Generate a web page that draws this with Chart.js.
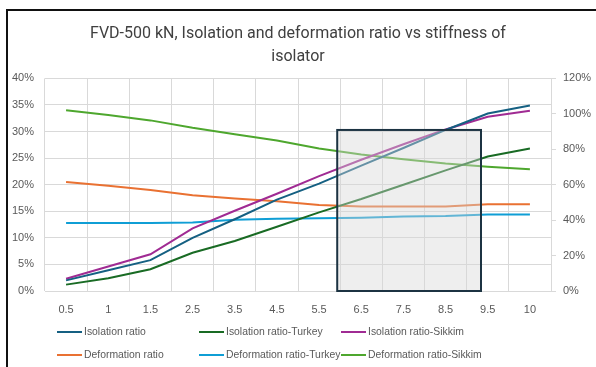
<!DOCTYPE html>
<html lang="en">
<head>
    <meta charset="UTF-8">
    <title>FVD-500 kN, Isolation and deformation ratio</title>
    <script src="https://cdn.jsdelivr.net/npm/chart.js"></script>
    <style>
        * {
            margin: 0;
            padding: 0;
            box-sizing: border-box;
        }

        body {
            width: 596px;
            height: 367px;
            background: #ffffff;
            overflow: hidden;
            position: relative;
            font-family: "Roboto", "Liberation Sans", sans-serif;
        }

        .chart-wrap {
            position: absolute;
            left: 0;
            top: 0;
            width: 596px;
            height: 367px;
        }

        .frame {
            position: absolute;
            left: 6px;
            top: 9px;
            width: 620px;
            height: 400px;
            border-left: 2px solid #111;
            border-top: 2px solid #111;
            pointer-events: none;
        }

        .legend {
            position: absolute;
            left: 57px;
            top: 320px;
            display: grid;
            grid-template-columns: 142px 142px 142px;
            grid-auto-rows: 23px;
            font-family: "Liberation Sans", Arial, sans-serif;
            font-size: 10.4px;
            color: #595959;
        }

        .legend-item {
            display: flex;
            align-items: center;
            white-space: nowrap;
        }

        .legend-item span.swatch {
            display: inline-block;
            width: 25px;
            height: 2px;
            margin-right: 2px;
        }
    </style>
</head>
<body>
    <div class="chart-wrap">
        <canvas id="ratioChart" width="596" height="367"></canvas>
    </div>
    <div class="frame"></div>
    <div class="legend" id="legend"></div>

    <script>
        // stiffness of isolator (category labels)
        const categories = ['0.5', '1', '1.5', '2.5', '3.5', '4.5', '5.5', '6.5', '7.5', '8.5', '9.5', '10'];

        // values in %
        const isolationRatio    = [2.0, 3.9, 5.8, 10.0, 13.5, 17.2, 20.2, 23.6, 26.9, 30.3, 33.4, 34.9];
        const isolationTurkey   = [1.2, 2.4, 4.1, 7.2, 9.4, 12.1, 14.8, 17.3, 20.0, 22.7, 25.3, 26.8];
        const isolationSikkim   = [2.3, 4.6, 6.9, 11.8, 15.1, 18.3, 21.6, 24.7, 27.6, 30.4, 32.8, 33.9];
        const deformationRatio  = [20.5, 19.8, 19.0, 18.0, 17.4, 16.9, 16.2, 15.9, 15.9, 15.9, 16.3, 16.3];
        const deformationTurkey = [12.8, 12.8, 12.8, 12.9, 13.4, 13.6, 13.7, 13.8, 14.0, 14.1, 14.4, 14.4];
        const deformationSikkim = [34.0, 33.1, 32.1, 30.7, 29.5, 28.3, 26.8, 25.7, 24.8, 24.0, 23.4, 22.9];

        const seriesNames = [
            'Isolation ratio', 'Isolation ratio-Turkey', 'Isolation ratio-Sikkim',
            'Deformation ratio', 'Deformation ratio-Turkey', 'Deformation ratio-Sikkim'
        ];
        const seriesValues = [isolationRatio, isolationTurkey, isolationSikkim, deformationRatio, deformationTurkey, deformationSikkim];
        const seriesColors = ['#156082', '#196B24', '#A02B93', '#E97132', '#0F9ED5', '#4EA72E'];

        // axis ticks
        const leftTicks = { min: 0, max: 40, step: 5 };
        const rightTicks = { min: 0, max: 120, step: 20 };

        // highlighted region: category index range and upper value (%)
        const shadeBox = { from: 6.43, to: 9.84, top: 30.3 };

        const shadePlugin = {
            id: 'shadeBox',
            afterDatasetsDraw(chart) {
                const { ctx, scales: { x, y } } = chart;
                const left = x.getPixelForValue(shadeBox.from);
                const right = x.getPixelForValue(shadeBox.to);
                const top = y.getPixelForValue(shadeBox.top);
                const bottom = y.getPixelForValue(0);
                ctx.save();
                ctx.fillStyle = 'rgba(214, 214, 214, 0.42)';
                ctx.fillRect(left, top, right - left, bottom - top);
                ctx.strokeStyle = '#1c3342';
                ctx.lineWidth = 2;
                ctx.strokeRect(left, top, right - left, bottom - top);
                ctx.restore();
            }
        };

        const tickFont = { family: '"Liberation Sans", Arial, sans-serif', size: 11 };

        const chart = new Chart(document.getElementById('ratioChart'), {
            type: 'line',
            data: {
                labels: categories,
                datasets: seriesNames.map((name, i) => ({
                    label: name,
                    data: seriesValues[i],
                    borderColor: seriesColors[i],
                    backgroundColor: seriesColors[i],
                    borderWidth: 2,
                    pointRadius: 0,
                    tension: 0,
                    yAxisID: 'y'
                }))
            },
            options: {
                responsive: false,
                animation: false,
                layout: { padding: 0 },
                plugins: {
                    legend: { display: false },
                    tooltip: { enabled: false },
                    title: {
                        display: true,
                        text: ['FVD-500 kN, Isolation and deformation ratio vs stiffness of', 'isolator'],
                        color: '#404040',
                        font: { family: 'Roboto', size: 16, weight: 'normal', lineHeight: 1.45 },
                        padding: { top: 22, bottom: 10 }
                    }
                },
                scales: {
                    x: {
                        offset: true,
                        grid: { offset: true, color: '#d9d9d9', drawTicks: false },
                        border: { color: '#d9d9d9' },
                        ticks: { color: '#595959', font: tickFont, padding: 12, maxRotation: 0, autoSkip: false },
                        afterFit: s => { s.height = 76; }
                    },
                    y: {
                        position: 'left',
                        min: leftTicks.min,
                        max: leftTicks.max,
                        grid: { color: '#d9d9d9', drawTicks: false },
                        border: { display: false },
                        ticks: { stepSize: leftTicks.step, color: '#595959', font: tickFont, padding: 11, callback: v => v + '%' },
                        afterFit: s => { s.width = 45; }
                    },
                    y1: {
                        position: 'right',
                        min: rightTicks.min,
                        max: rightTicks.max,
                        grid: { drawOnChartArea: false, color: '#d9d9d9', tickLength: 5 },
                        border: { color: '#d9d9d9' },
                        ticks: { stepSize: rightTicks.step, color: '#595959', font: tickFont, padding: 7, callback: v => v + '%' },
                        afterFit: s => { s.width = 45; }
                    }
                }
            },
            plugins: [shadePlugin]
        });

        const legend = document.getElementById('legend');
        seriesNames.forEach((name, i) => {
            const item = document.createElement('div');
            item.className = 'legend-item';
            item.innerHTML = '<span class="swatch" style="background:' + seriesColors[i] + '"></span>' + name;
            legend.appendChild(item);
        });
    </script>
</body>
</html>
